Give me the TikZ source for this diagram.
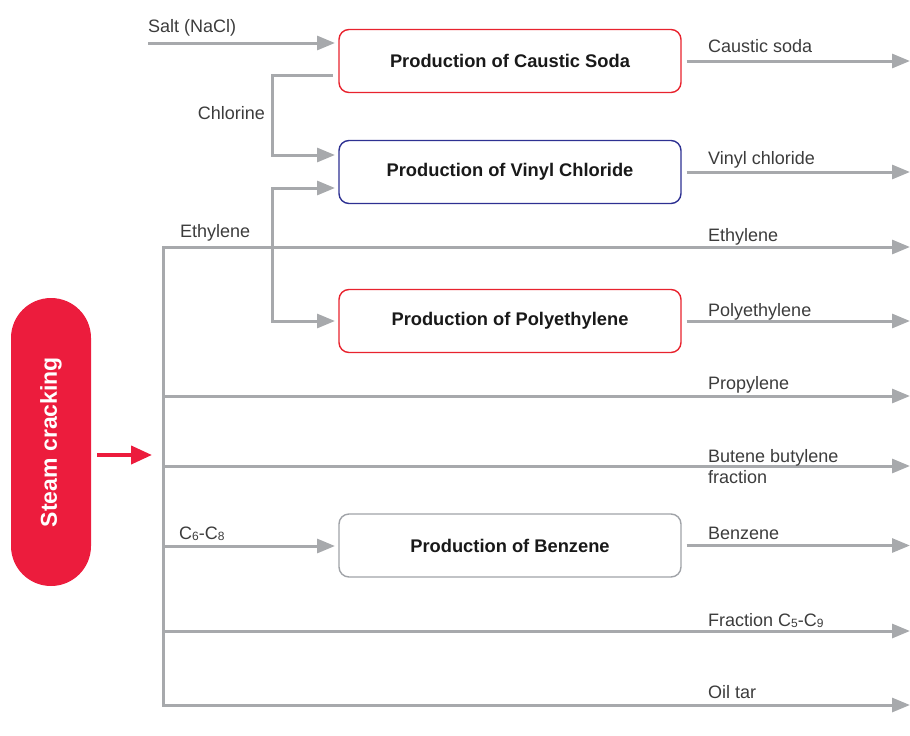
\documentclass[tikz,border=0pt]{standalone}
\usepackage{fontspec}
\setmainfont{Liberation Sans}
\usetikzlibrary{arrows.meta}
\definecolor{flow}{HTML}{A7A9AC}
\definecolor{pillred}{HTML}{EC1C3D}
\definecolor{boxred}{HTML}{E8232E}
\definecolor{boxblue}{HTML}{2E3192}
\definecolor{boxgray}{HTML}{A0A3A8}
\definecolor{txt}{HTML}{3C3C3C}
\newcommand{\sbs}[1]{\raisebox{-1.2pt}{\fontsize{12}{12}\selectfont #1}}
\tikzset{
  line/.style={draw=flow, line width=3pt},
  arr/.style={line, -{Triangle[length=18pt,width=14pt]}},
  arrs/.style={line, {Triangle[length=18pt,width=14pt]}-{Triangle[length=18pt,width=14pt]}},
  procbox/.style={draw, fill=white, rounded corners=10pt, line width=1.4pt,
    minimum width=342pt, minimum height=63pt, inner sep=0pt,
    font=\bfseries\fontsize{18.3}{20}\selectfont, text=black!90},
  lbl/.style={anchor=base west, inner sep=0pt, text=txt, font=\fontsize{18}{21}\selectfont},
  lble/.style={lbl, anchor=base east},
  pill/.style={fill=pillred, rounded corners=40pt, minimum width=288pt, minimum height=80pt,
    inner sep=0pt, text=white, font=\bfseries\fontsize{23}{26}\selectfont},
  redarr/.style={draw=pillred, line width=4pt, -{Triangle[length=21pt,width=18pt]}}
}
\begin{document}
\begin{tikzpicture}[x=1pt,y=-1pt]
\useasboundingbox (0,0) rectangle (910,736);

% process boxes
\node[procbox, draw=boxred]  (caustic) at (510,61)    {Production of Caustic Soda};
\node[procbox, draw=boxblue] (vinyl)   at (510,172)   {Production of Vinyl Chloride};
\node[procbox, draw=boxred]  (poly)    at (510,321)   {Production of Polyethylene};
\node[procbox, draw=boxgray] (benz)    at (510,545.5) {Production of Benzene};

% steam cracking
\node[pill, rotate=90] (steam) at (51,442) {Steam cracking};
\coordinate (ra0) at (97,455);
\coordinate (ra1) at (152,455);
\draw[redarr] (ra0) -- (ra1);

% inputs
\coordinate (salt0) at (148,43);
\coordinate (salt1) at (335,43);
\draw[arr] (salt0) -- (salt1);

\coordinate (cl0) at (333,75);
\coordinate (cl1) at (272,75);
\coordinate (cl2) at (272,155);
\coordinate (cl3) at (335,155);
\draw[arr] (cl0) -- (cl1) -- (cl2) -- (cl3);

\coordinate (et0) at (335,188);
\coordinate (et1) at (272,188);
\coordinate (et2) at (272,321);
\coordinate (et3) at (335,321);
\draw[arrs] (et0) -- (et1) -- (et2) -- (et3);

% trunk
\coordinate (tA) at (910,247);
\coordinate (tB) at (163,247);
\coordinate (tC) at (163,705);
\coordinate (tD) at (910,705);
\draw[arrs] (tA) -- (tB) -- (tC) -- (tD);

\coordinate (p0) at (163,396);  \coordinate (p1) at (910,396);
\coordinate (b0) at (163,466);  \coordinate (b1) at (910,466);
\coordinate (c0) at (163,546);  \coordinate (c1) at (335,546);
\coordinate (f0) at (163,631);  \coordinate (f1) at (910,631);
\draw[arr] (p0) -- (p1);
\draw[arr] (b0) -- (b1);
\draw[arr] (c0) -- (c1);
\draw[arr] (f0) -- (f1);

% outputs
\coordinate (o1) at (910,61);
\coordinate (o2) at (910,172);
\coordinate (o3) at (910,321);
\coordinate (o4) at (910,545.5);
\draw[arr] ([xshift=5pt]caustic.east) -- (o1);
\draw[arr] ([xshift=5pt]vinyl.east) -- (o2);
\draw[arr] ([xshift=5pt]poly.east) -- (o3);
\draw[arr] ([xshift=5pt]benz.east) -- (o4);

% labels
\node[lbl]  (lsalt) at (148,32)  {Salt (NaCl)};
\node[lble] (lcl)   at (265,119) {Chlorine};
\node[lbl]  (leth)  at (180,237) {Ethylene};
\node[lbl]  (lc68)  at (179,539) {C\sbs{6}-C\sbs{8}};

\node[lbl] (rcs)  at (708,52)  {Caustic soda};
\node[lbl] (rvc)  at (708,164) {Vinyl chloride};
\node[lbl] (reth) at (708,241) {Ethylene};
\node[lbl] (rpe)  at (708,316) {Polyethylene};
\node[lbl] (rpr)  at (708,389) {Propylene};
\node[lbl] (rbu)  at (708,462) {Butene butylene};
\node[lbl] (rbu2) at (708,483) {fraction};
\node[lbl] (rbz)  at (708,539) {Benzene};
\node[lbl] (rfr)  at (708,626) {Fraction C\sbs{5}-C\sbs{9}};
\node[lbl] (rot)  at (708,698) {Oil tar};
\end{tikzpicture}
\end{document}
